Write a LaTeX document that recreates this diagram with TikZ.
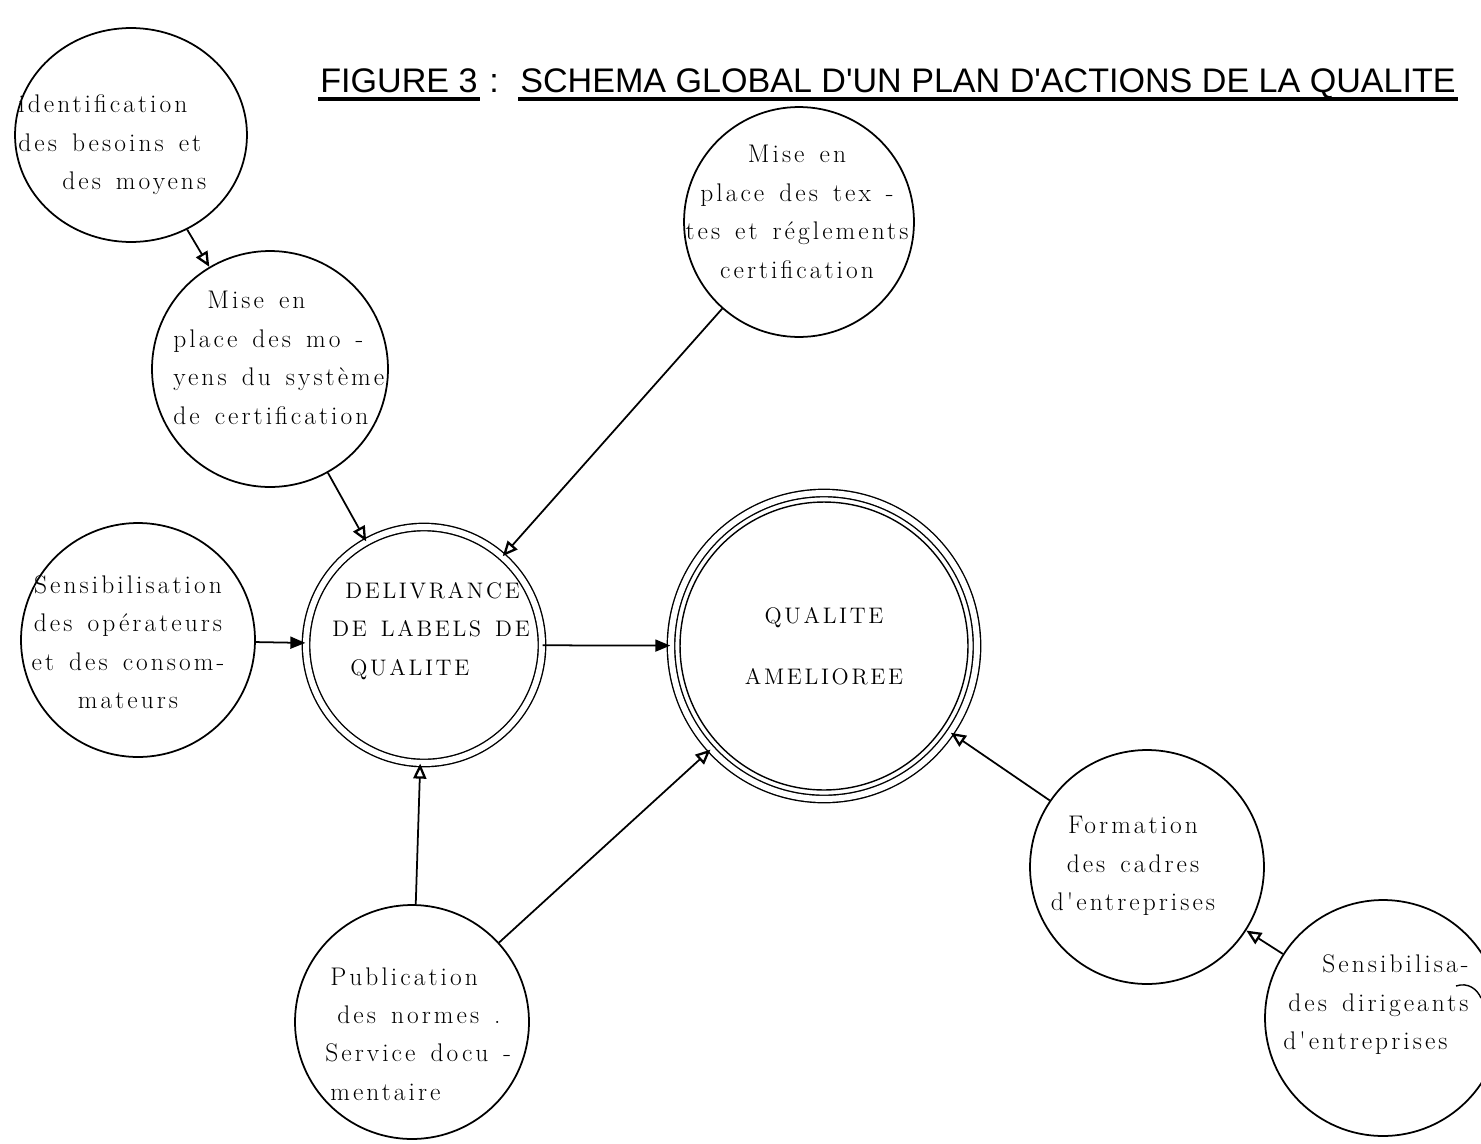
\documentclass[tikz,border=0pt]{standalone}
\usepackage{fontspec}
\usetikzlibrary{arrows.meta,calc,shapes.geometric}
\newfontfamily\titlefont{Liberation Sans}
\newfontfamily\bubblefont{Latin Modern Roman}[LetterSpace=12,WordSpace=1.4]
\begin{document}
\begin{tikzpicture}[x=0.02cm,y=-0.02cm,
  bubble/.style={circle,draw,line width=1pt,inner sep=0pt,minimum size=#1},
  ring2/.style={circle,draw,line width=0.8pt,double,double distance=0.12cm,inner sep=0pt,minimum size=#1},
  txt/.style={font=\bubblefont\fontsize{14.5pt}{21.9pt}\selectfont,inner sep=0pt,align=center},
  txtl/.style={txt,align=left,anchor=west},
  caps/.style={font=\bubblefont\fontsize{12.8pt}{#1}\selectfont},
  ttl/.style={font=\titlefont\fontsize{19.4pt}{23pt}\selectfont,inner sep=0pt,anchor=base west},
  ulrule/.style={line width=1.8pt},
  arr/.style={line width=1pt,-{Triangle[open,length=0.3cm,width=0.26cm,line width=1.3pt]}},
  arrf/.style={line width=1pt,-{Triangle[length=0.3cm,width=0.24cm]}}]
\useasboundingbox (0,0) rectangle (1481,1143);

% title
\node[ttl] (t1) at (320,92) {FIGURE 3};
\node[ttl,anchor=base] (tc) at (494,92) {:};
\node[ttl] (t2) at (520,92) {SCHEMA GLOBAL D'UN PLAN D'ACTIONS DE LA QUALITE};
\draw[ulrule] ($(t1.base west)+(-2,7)$) -- ($(t1.base east)+(2,7)$);
\draw[ulrule] ($(t2.base west)+(-2,7)$) -- ($(t2.base east)+(2,7)$);

% action circles
\node[ellipse,draw,line width=1pt,inner sep=0pt,minimum width=4.64cm,minimum height=4.28cm] (idn) at (131,135) {};
\node[bubble=4.72cm] (moy) at (270,369) {};
\node[bubble=4.6cm] (tex) at (799,222) {};
\node[bubble=4.68cm] (sop) at (138,640) {};
\node[ring2=4.72cm] (del) at (424,645) {};
\node[ring2=6.12cm] (qa) at (824,646) {};
\node[circle,draw,line width=0.8pt,inner sep=0pt,minimum size=5.76cm] (qai) at (qa.center) {};
\node[bubble=4.68cm] (pub) at (412,1022) {};
\node[bubble=4.68cm] (frm) at (1147,867) {};
\node[bubble=4.72cm] (dir) at (1383,1018) {};

% texts
\node[txtl] (idnT) at (18,145) {identification\\des besoins et\\\hspace*{0.88cm}des moyens};
\node[txtl] (moyT) at (173,358) {\hspace*{0.68cm}Mise en\\place des mo -\\yens du système\\de certification};
\node[txt] (texT) at (797,212) {Mise en\\place des tex -\\tes et réglements\\certification};
\node[txt] (sopT) at (128,642) {Sensibilisation\\des opérateurs\\et des consom-\\mateurs};
\node[txtl,caps=21.9pt] (delT) at (332,631) {\hspace*{0.26cm}DELIVRANCE\\DE LABELS DE\\\hspace*{0.36cm}QUALITE};
\node[txt,caps=35pt] (qaT) at (824,646) {QUALITE\\AMELIOREE};
\node[txtl] (pubT) at (325,1034) {\hspace*{0.1cm}Publication\\\hspace*{0.24cm}des normes .\\Service docu -\\\hspace*{0.1cm}mentaire};
\node[txt] (frmT) at (1133,866) {Formation\\des cadres\\d'entreprises};
\node[txtl] (dirT) at (1283,1005) {\hspace*{0.78cm}Sensibilisa-\\\hspace*{0.1cm}des dirigeants\\d'entreprises};

% connectors
\draw[arr] (idn) -- (moy);
\draw[arr] (moy) -- (del);
\draw[arr] (tex) -- (del);
\draw[arrf] (sop) -- (del);
\draw[arrf] (del) -- (qa);
\draw[arr] (pub) -- (del);
\draw[arr] (pub) -- (qa);
\draw[arr] (frm) -- (qa);
\draw[arr] (dir) -- (frm);

% hand-drawn curl after the hyphen
\draw[line width=0.8pt] (1456,986) .. controls (1468,982) and (1477,989) .. (1481,998);
\end{tikzpicture}
\end{document}
